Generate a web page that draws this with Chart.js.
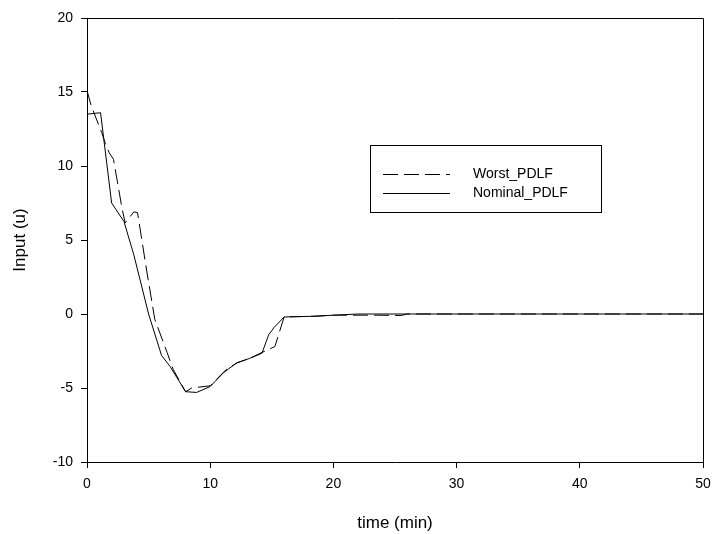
<!DOCTYPE html>
<html>
<head>
<meta charset="utf-8">
<script src="https://cdn.jsdelivr.net/npm/chart.js@4.4.1/dist/chart.umd.min.js"></script>
<style>
  html, body { margin: 0; padding: 0; background: #fff; }
  #wrap { width: 713px; height: 534px; position: relative; }
</style>
</head>
<body>
<div id="wrap"><canvas id="c" width="713" height="534"></canvas></div>
<script>
// ---- data ----
const seriesNames = ['Worst_PDLF', 'Nominal_PDLF'];

const worstX = [0, 0.35, 1.2, 1.5, 1.8, 2.15, 2.85, 3.1, 3.8, 4.1, 4.85, 5.5, 6.5, 7.0, 8.0, 8.5, 9.5, 10.0, 11.3, 12.2, 13.2, 14.2, 15.25, 16.0, 17, 18.5, 20, 23.5, 25.5, 26, 50];
const worstY = [15.1, 14.05, 12.25, 11.5, 10.9, 10.45, 7.1, 6.15, 6.9, 6.85, 2.9, -0.35, -2.6, -3.75, -5.25, -5.0, -4.9, -4.85, -3.75, -3.3, -3.0, -2.6, -2.2, -0.2, -0.18, -0.15, -0.08, -0.08, -0.1, 0, 0];

const nominalX = [0, 1.1, 2.0, 3.0, 3.8, 5.0, 6.05, 6.75, 8.0, 8.9, 10.0, 11.1, 12.15, 13.2, 14.2, 14.75, 15.2, 16.0, 17, 18.5, 20, 22, 50];
const nominalY = [13.5, 13.6, 7.5, 6.25, 4.0, 0.0, -2.8, -3.55, -5.25, -5.3, -4.9, -3.95, -3.3, -3.0, -2.65, -1.4, -0.9, -0.2, -0.18, -0.15, -0.08, 0, 0];

const xTicks = [0, 10, 20, 30, 40, 50];
const yTicks = [-10, -5, 0, 5, 10, 15, 20];
const xTitle = 'time (min)';
const yTitle = 'Input (u)';

// ---- build ----
const toPts = (xs, ys) => xs.map((x, i) => ({ x: x, y: ys[i] }));
const FONT = '"Liberation Sans", Arial, sans-serif';

const frameAndLegend = {
  id: 'frameAndLegend',
  afterDraw(chart) {
    const ctx = chart.ctx;
    const a = chart.chartArea;
    ctx.save();
    ctx.strokeStyle = '#000';
    ctx.lineWidth = 1;
    ctx.beginPath();
    ctx.moveTo(a.left, a.top + 0.5);
    ctx.lineTo(a.right + 0.5, a.top + 0.5);
    ctx.lineTo(a.right + 0.5, a.bottom);
    ctx.stroke();

    const bx = 370.5, by = 145.5, bw = 231, bh = 67;
    ctx.fillStyle = '#fff';
    ctx.fillRect(bx, by, bw, bh);
    ctx.strokeRect(bx, by, bw, bh);
    const rows = [174, 193];
    chart.data.datasets.forEach((ds, i) => {
      const y = rows[i] + 0.5;
      ctx.setLineDash(ds.borderDash || []);
      ctx.lineWidth = ds.borderWidth;
      ctx.strokeStyle = ds.borderColor;
      ctx.beginPath();
      ctx.moveTo(383, y);
      ctx.lineTo(450, y);
      ctx.stroke();
      ctx.setLineDash([]);
      ctx.fillStyle = '#000';
      ctx.font = '14px ' + FONT;
      ctx.textBaseline = 'middle';
      ctx.textAlign = 'left';
      ctx.fillText(ds.label, 473, rows[i]);
    });
    ctx.restore();
  }
};

new Chart(document.getElementById('c'), {
  type: 'scatter',
  data: {
    datasets: [
      { label: seriesNames[0], data: toPts(worstX, worstY), showLine: true, borderColor: '#000', borderWidth: 1, borderDash: [15, 6], pointRadius: 0, tension: 0 },
      { label: seriesNames[1], data: toPts(nominalX, nominalY), showLine: true, borderColor: '#000', borderWidth: 1, pointRadius: 0, tension: 0 }
    ]
  },
  options: {
    responsive: false,
    animation: false,
    devicePixelRatio: 1,
    layout: { padding: { left: 0, right: 10, top: 18, bottom: 0 } },
    plugins: { legend: { display: false }, tooltip: { enabled: false } },
    scales: {
      x: {
        type: 'linear', min: 0, max: 50,
        afterBuildTicks: s => { s.ticks = xTicks.map(v => ({ value: v })); },
        afterFit: s => { s.height = 72; s.paddingLeft = 0; s.paddingRight = 0; },
        ticks: { color: '#000', font: { family: FONT, size: 14 }, padding: 8, maxRotation: 0 },
        grid: { drawOnChartArea: false, drawTicks: true, tickLength: 6, color: '#000' },
        border: { display: true, color: '#000', width: 1 },
        title: { display: true, text: xTitle, color: '#000', font: { family: FONT, size: 17 }, padding: { top: 0, bottom: 0 } }
      },
      y: {
        type: 'linear', min: -10, max: 20,
        afterBuildTicks: s => { s.ticks = yTicks.map(v => ({ value: v })); },
        afterFit: s => { s.width = 87; s.paddingTop = 0; s.paddingBottom = 0; },
        ticks: { color: '#000', font: { family: FONT, size: 14 }, padding: 8 },
        grid: { drawOnChartArea: false, drawTicks: true, tickLength: 6, color: '#000' },
        border: { display: true, color: '#000', width: 1 },
        title: { display: true, text: yTitle, color: '#000', font: { family: FONT, size: 17 }, padding: { top: 10, bottom: 0 } }
      }
    }
  },
  plugins: [frameAndLegend]
});
</script>
</body>
</html>
